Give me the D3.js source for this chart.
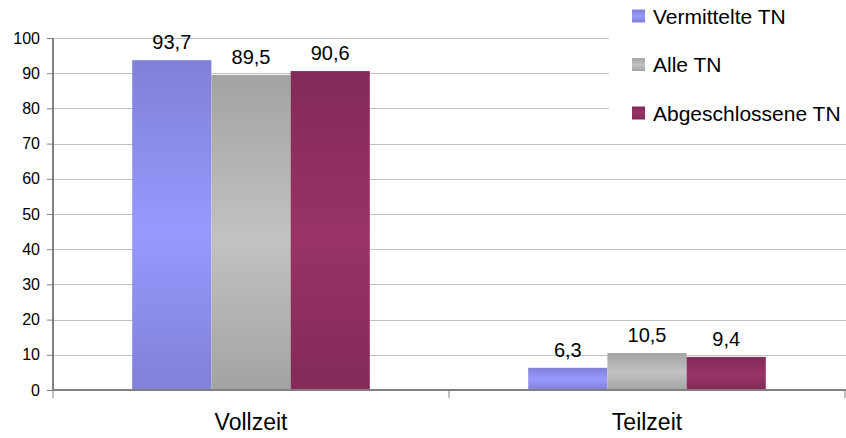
<!DOCTYPE html>
<html><head><meta charset="utf-8">
<script src="https://cdn.jsdelivr.net/npm/d3@7"></script>
<style>body{margin:0;background:#fff}svg{display:block;font-family:"Liberation Sans",Arial,sans-serif}</style>
</head><body><svg id="c" width="846" height="438"></svg>
<script>
const categories = ["Vollzeit", "Teilzeit"];
const seriesNames = ["Vermittelte TN", "Alle TN", "Abgeschlossene TN"];
const vermittelte = [93.7, 6.3];
const alle = [89.5, 10.5];
const abgeschlossene = [90.6, 9.4];
const yTicks = [0, 10, 20, 30, 40, 50, 60, 70, 80, 90, 100];
const seriesValues = [vermittelte, alle, abgeschlossene];
const colors = [
  {dark:"#8080d8", light:"#9999ff"},
  {dark:"#a3a3a3", light:"#c2c2c2"},
  {dark:"#822a58", light:"#993366"}
];

const svg = d3.select("#c");
const mLeft = 53, mRight = 845, mTop = 38, mBottom = 390;
const x = d3.scaleBand().domain(categories).range([mLeft, mRight]).paddingInner(0).paddingOuter(0);
const x1 = d3.scaleBand().domain(seriesNames).range([0, x.bandwidth()]).paddingInner(0).paddingOuter(1);
const y = d3.scaleLinear().domain([0, 100]).range([mBottom, mTop]);

const defs = svg.append("defs");
colors.forEach((c, i) => {
  const g = defs.append("linearGradient").attr("id", "g" + i).attr("x1", 0).attr("y1", 0).attr("x2", 0).attr("y2", 1);
  g.append("stop").attr("offset", "0%").attr("stop-color", c.dark);
  g.append("stop").attr("offset", "52%").attr("stop-color", c.light);
  g.append("stop").attr("offset", "100%").attr("stop-color", c.dark);
});

// gridlines
svg.append("g").selectAll("line").data(yTicks.filter(d => d > 0)).join("line")
  .attr("x1", mLeft).attr("x2", mRight + 1)
  .attr("y1", d => Math.round(y(d)) + 0.5).attr("y2", d => Math.round(y(d)) + 0.5)
  .attr("stroke", "#c0c0c0").attr("stroke-width", 1);

// bars
const groups = svg.append("g").selectAll("g").data(categories).join("g")
  .attr("transform", d => `translate(${x(d)},0)`);
groups.selectAll("rect").data((c, ci) => seriesNames.map((s, si) => ({s, si, v: seriesValues[si][ci]}))).join("rect")
  .attr("x", d => x1(d.s)).attr("width", x1.bandwidth())
  .attr("y", d => y(d.v)).attr("height", d => y(0) - y(d.v))
  .attr("fill", d => `url(#g${d.si})`);
groups.selectAll("text").data((c, ci) => seriesNames.map((s, si) => ({s, si, v: seriesValues[si][ci]}))).join("text")
  .attr("x", d => x1(d.s) + x1.bandwidth() / 2).attr("y", d => y(d.v) - 11)
  .attr("text-anchor", "middle").attr("font-size", 20).attr("fill", "#000")
  .text(d => d3.format(".1f")(d.v).replace(".", ","));

// y axis
const yAxis = svg.append("g").attr("transform", `translate(${mLeft},0)`)
  .call(d3.axisLeft(y).tickValues(yTicks).tickSize(6).tickPadding(7).tickFormat(d3.format("d")));
yAxis.select(".domain").remove();
yAxis.selectAll(".tick line").attr("stroke", "#808080");
yAxis.selectAll("text").attr("font-size", 16).attr("font-family", "Liberation Sans, Arial, sans-serif").attr("fill", "#000");
svg.append("line").attr("x1", mLeft).attr("x2", mLeft).attr("y1", mTop).attr("y2", mBottom)
  .attr("stroke", "#808080").attr("stroke-width", 2);

// x axis
const xAxis = svg.append("g").attr("transform", `translate(0,${mBottom})`)
  .call(d3.axisBottom(x).tickSize(0).tickPadding(24));
xAxis.select(".domain").attr("stroke", "#808080").attr("stroke-width", 2).attr("d", `M${mLeft},0H${mRight + 1}`);
xAxis.selectAll("text").attr("font-size", 23).attr("font-family", "Liberation Sans, Arial, sans-serif").attr("fill", "#000");
const bounds = [mLeft, x("Teilzeit"), mRight];
svg.append("g").selectAll("line").data(bounds).join("line")
  .attr("x1", d => d).attr("x2", d => d).attr("y1", mBottom).attr("y2", mBottom + 8)
  .attr("stroke", "#808080").attr("stroke-width", 1);

// legend
const lg = svg.append("g");
lg.append("rect").attr("x", 609).attr("y", 0).attr("width", 237).attr("height", 134).attr("fill", "#fff");
const items = lg.selectAll("g").data(seriesNames).join("g")
  .attr("transform", (d, i) => `translate(632,${16 + i * 48.5})`);
items.append("rect").attr("x", 0).attr("y", -6.5).attr("width", 13).attr("height", 13)
  .attr("fill", (d, i) => `url(#g${i})`);
items.append("text").attr("x", 21).attr("y", 7.5).attr("font-size", 21).attr("fill", "#000").text(d => d);
</script></body></html>
